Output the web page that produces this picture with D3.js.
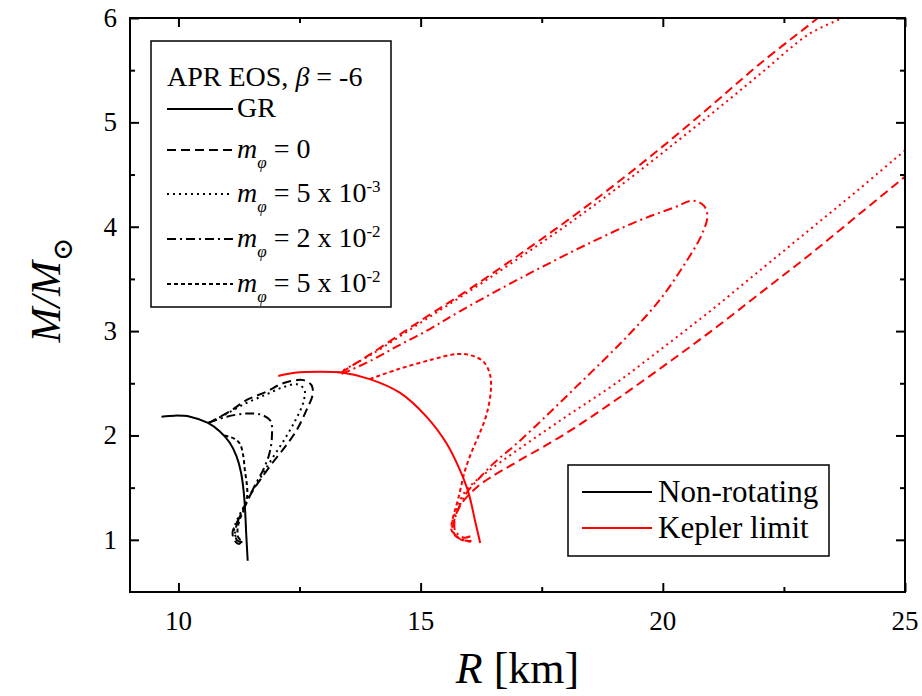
<!DOCTYPE html>
<html>
<head>
<meta charset="utf-8">
<script src="https://cdn.jsdelivr.net/npm/d3@7"></script>
<style>
  body { margin: 0; background: #fff; }
  .frame { fill: none; stroke: #000; stroke-width: 2; }
  .tick line { stroke: #000; stroke-width: 2; }
  .curve { fill: none; stroke-width: 2; }
</style>
</head>
<body>
<svg id="chart" width="922" height="696"></svg>
<script>
// ---- data (R [km], M/Msun) ----
const xTicks = [10, 15, 20, 25];
const xMinor = [12.5, 17.5, 22.5];
const yTicks = [1, 2, 3, 4, 5, 6];
const yMinor = [1.5, 2.5, 3.5, 4.5, 5.5];

// non-rotating (black)
const nrGR = [[9.65,2.18],[9.93,2.19],[10.24,2.18],[10.61,2.12],[10.85,2.04],[11.06,1.93],[11.2,1.8],
  [11.29,1.65],[11.35,1.45],[11.38,1.25],[11.4,1.05],[11.43,0.8]];
const nrM0 = [[10.62,2.12],[11.06,2.23],[11.41,2.34],[11.82,2.42],[12.16,2.5],[12.58,2.53],[12.75,2.48],
  [12.77,2.39],[12.65,2.25],[12.44,2.05],[12.2,1.89],[11.93,1.73],[11.68,1.57],[11.51,1.45],[11.35,1.3],
  [11.2,1.16],[11.12,1.08],[11.15,1.0],[11.25,0.96],[11.35,1.02]];
const nrM5e3 = [[10.62,2.12],[11.0,2.21],[11.4,2.31],[11.8,2.39],[12.15,2.46],[12.45,2.49],[12.6,2.44],
  [12.58,2.32],[12.42,2.15],[12.2,1.97],[11.95,1.79],[11.7,1.6],[11.5,1.45],[11.33,1.3],[11.2,1.18],
  [11.15,1.1],[11.2,1.02],[11.3,1.0]];
const nrM2e2 = [[10.62,2.12],[11.0,2.18],[11.4,2.21],[11.7,2.2],[11.9,2.14],[11.93,1.99],[11.88,1.83],
  [11.75,1.67],[11.6,1.54],[11.45,1.4],[11.3,1.26],[11.2,1.14],[11.17,1.05],[11.22,0.99],[11.32,0.98]];
const nrM5e2 = [[10.95,2.0],[11.15,1.97],[11.27,1.92],[11.34,1.8],[11.37,1.67],[11.41,1.54],[11.42,1.42],
  [11.36,1.3],[11.27,1.2],[11.22,1.1],[11.24,1.02],[11.32,1.0]];

// Kepler limit (red)
const kGR = [[12.06,2.57],[12.4,2.6],[12.9,2.61],[13.4,2.6],[13.95,2.54],[14.57,2.41],[15.12,2.18],
  [15.54,1.92],[15.81,1.67],[15.99,1.45],[16.12,1.19],[16.23,0.97]];
const kM0Upper = [[13.35,2.6],[14.0,2.79],[15.0,3.1],[16.0,3.4],[17.0,3.72],[18.0,4.05],[19.0,4.4],
  [20.0,4.77],[21.0,5.16],[22.0,5.56],[23.2,6.0],[23.4,6.08]];
const kM0Lower = [[25.3,4.6],[25,4.48],[24,4.1],[23,3.72],[22,3.36],[21,3.0],[20,2.66],[19,2.33],
  [18,2.02],[17,1.75],[16.45,1.6],[16.15,1.5],[15.85,1.35],[15.7,1.2],[15.68,1.07],[15.85,1.0],[16.05,0.99]];
const kM5e3Upper = [[13.3,2.6],[14.0,2.78],[15.0,3.08],[16.0,3.38],[17.0,3.69],[18.0,4.01],[19.0,4.35],
  [20.0,4.71],[21.0,5.08],[22.0,5.46],[23.0,5.84],[23.7,6.0],[23.9,6.05]];
const kM5e3Lower = [[25.2,4.8],[25,4.73],[24,4.34],[23,3.96],[22,3.58],[21,3.2],[20,2.84],[19,2.49],
  [18,2.18],[17,1.86],[16.4,1.66],[16.1,1.55],[15.9,1.45],[15.75,1.3],[15.65,1.15],[15.7,1.05],[15.9,1.0]];
const kM2e2 = [[13.37,2.59],[13.9,2.7],[14.5,2.85],[15.19,3.02],[15.81,3.19],[16.71,3.42],[17.53,3.62],
  [18.43,3.83],[19.46,4.05],[20.21,4.18],[20.63,4.25],[20.85,4.2],[20.92,4.1],[20.8,3.92],[20.42,3.62],
  [19.94,3.3],[19.39,3.01],[18.84,2.75],[18.22,2.47],[17.6,2.19],[16.98,1.92],[16.5,1.73],[16.19,1.58],
  [15.95,1.45],[15.78,1.3],[15.7,1.18],[15.72,1.08],[15.9,1.02],[16.1,1.05]];
const kM5e2 = [[13.95,2.54],[14.57,2.64],[15.26,2.73],[15.74,2.78],[16.02,2.77],[16.29,2.71],[16.43,2.59],
  [16.45,2.43],[16.36,2.2],[16.2,2.0],[16.05,1.84],[15.92,1.67],[15.85,1.54],[15.78,1.4],[15.72,1.3],
  [15.66,1.2],[15.64,1.09],[15.8,1.01],[16.05,0.98]];

const styles = {
  gr:  null,
  m0:  '9,5',
  m5e3: '2,4',
  m2e2: '9,4,2,4',
  m5e2: '4,3'
};

const series = [
  { data: nrGR, color: '#000', dash: styles.gr },
  { data: nrM0, color: '#000', dash: styles.m0 },
  { data: nrM5e3, color: '#000', dash: styles.m5e3 },
  { data: nrM2e2, color: '#000', dash: styles.m2e2 },
  { data: nrM5e2, color: '#000', dash: styles.m5e2 },
  { data: kGR, color: '#ff0000', dash: styles.gr },
  { data: kM0Upper, color: '#ff0000', dash: styles.m0 },
  { data: kM0Lower, color: '#ff0000', dash: styles.m0 },
  { data: kM5e3Upper, color: '#ff0000', dash: styles.m5e3 },
  { data: kM5e3Lower, color: '#ff0000', dash: styles.m5e3 },
  { data: kM2e2, color: '#ff0000', dash: styles.m2e2 },
  { data: kM5e2, color: '#ff0000', dash: styles.m5e2 }
];

const FONT = '"Liberation Serif", "DejaVu Serif", serif';

// ---- layout ----
const plotL = 130, plotR = 905, plotT = 18, plotB = 592;
const svg = d3.select('#chart').attr('font-family', FONT);

const x = d3.scaleLinear().domain([9, 25]).range([plotL, plotR]);
const y = d3.scaleLinear().domain([0.5, 6]).range([plotB, plotT]);

svg.append('clipPath').attr('id', 'plot-clip')
  .append('rect')
  .attr('x', plotL).attr('y', plotT)
  .attr('width', plotR - plotL).attr('height', plotB - plotT);

const line = d3.line()
  .x(d => x(d[0]))
  .y(d => y(d[1]))
  .curve(d3.curveCatmullRom.alpha(0.5));

const plot = svg.append('g').attr('clip-path', 'url(#plot-clip)');
plot.selectAll('path.curve')
  .data(series)
  .join('path')
  .attr('class', 'curve')
  .attr('stroke', d => d.color)
  .attr('stroke-dasharray', d => d.dash)
  .attr('d', d => line(d.data));

// ---- axes: inward ticks on all four sides ----
const MAJOR = 9, MINOR = 5;
const offsets = [`translate(0,${plotB})`, `translate(0,${plotT})`, `translate(${plotL},0)`, `translate(${plotR},0)`];
function makeAxes(xv, yv, size) {
  return [
    d3.axisBottom(x).tickValues(xv).tickSize(-size).tickFormat(''),
    d3.axisTop(x).tickValues(xv).tickSize(-size).tickFormat(''),
    d3.axisLeft(y).tickValues(yv).tickSize(-size).tickFormat(''),
    d3.axisRight(y).tickValues(yv).tickSize(-size).tickFormat('')
  ];
}
[makeAxes(xTicks, yTicks, MAJOR), makeAxes(xMinor, yMinor, MINOR)].forEach(set => set.forEach((ax, i) => {
  const g = svg.append('g').attr('transform', offsets[i]).call(ax);
  g.select('.domain').remove();
}));

svg.append('rect').attr('class', 'frame')
  .attr('x', plotL).attr('y', plotT)
  .attr('width', plotR - plotL).attr('height', plotB - plotT);

svg.selectAll('text.xlab')
  .data(xTicks).join('text')
  .attr('class', 'xlab')
  .attr('font-family', FONT).attr('font-size', 27)
  .attr('x', d => x(d)).attr('y', plotB + 38)
  .attr('text-anchor', 'middle')
  .text(d => d);

svg.selectAll('text.ylab')
  .data(yTicks).join('text')
  .attr('class', 'ylab')
  .attr('font-family', FONT).attr('font-size', 27)
  .attr('x', plotL - 13).attr('y', d => y(d) + 9)
  .attr('text-anchor', 'end')
  .text(d => d);

// axis titles
const xt = svg.append('text')
  .attr('font-family', FONT).attr('font-size', 44)
  .attr('x', (plotL + plotR) / 2).attr('y', 683)
  .attr('text-anchor', 'middle');
xt.append('tspan').attr('font-style', 'italic').text('R');
xt.append('tspan').text(' [km]');

const yt = svg.append('text')
  .attr('font-family', FONT).attr('font-size', 42)
  .attr('transform', 'translate(60,290) rotate(-90)')
  .attr('text-anchor', 'middle');
yt.append('tspan').attr('font-style', 'italic').text('M/M');
yt.append('tspan').attr('dy', 12).attr('font-size', 28).text('\u2299');

// ---- legend 1: variants ----
const leg1 = svg.append('g');
leg1.append('rect')
  .attr('x', 151).attr('y', 41).attr('width', 240).attr('height', 266)
  .attr('fill', '#fff').attr('stroke', '#000').attr('stroke-width', 1.5);

const head = leg1.append('text')
  .attr('font-family', FONT).attr('font-size', 28)
  .attr('x', 167).attr('y', 86);
head.append('tspan').text('APR EOS, ');
head.append('tspan').attr('font-style', 'italic').text('\u03b2');
head.append('tspan').text(' = -6');

const legendRows = [
  { dash: styles.gr,   label: 'GR',  exp: null, y: 109 },
  { dash: styles.m0,   label: '0',   exp: null, y: 150 },
  { dash: styles.m5e3, label: '5 x 10', exp: '-3', y: 194 },
  { dash: styles.m2e2, label: '2 x 10', exp: '-2', y: 239 },
  { dash: styles.m5e2, label: '5 x 10', exp: '-2', y: 284 }
];
legendRows.forEach(r => {
  leg1.append('line')
    .attr('x1', 167).attr('x2', 233).attr('y1', r.y).attr('y2', r.y)
    .attr('stroke', '#000').attr('stroke-width', 2)
    .attr('stroke-dasharray', r.dash);
  const t = leg1.append('text')
    .attr('font-family', FONT).attr('font-size', 28)
    .attr('x', 237).attr('y', r.y + 8);
  if (r.label === 'GR') { t.text('GR'); return; }
  t.append('tspan').attr('font-style', 'italic').text('m');
  t.append('tspan').attr('dy', 10).attr('font-style', 'italic').attr('font-size', 17).text('\u03c6');
  t.append('tspan').attr('dy', -10).text(' = ' + r.label);
  if (r.exp) t.append('tspan').attr('dy', -10).attr('font-size', 17).text(r.exp);
});

// ---- legend 2: rotation ----
const leg2 = svg.append('g');
leg2.append('rect')
  .attr('x', 568).attr('y', 465).attr('width', 261).attr('height', 91)
  .attr('fill', '#fff').attr('stroke', '#000').attr('stroke-width', 1.5);
[['Non-rotating', '#000', 492], ['Kepler limit', '#ff0000', 528]].forEach(([label, color, ly]) => {
  leg2.append('line')
    .attr('x1', 582).attr('x2', 652).attr('y1', ly).attr('y2', ly)
    .attr('stroke', color).attr('stroke-width', 2);
  leg2.append('text')
    .attr('font-family', FONT).attr('font-size', 31)
    .attr('x', 658).attr('y', ly + 10)
    .text(label);
});
</script>
</body>
</html>
